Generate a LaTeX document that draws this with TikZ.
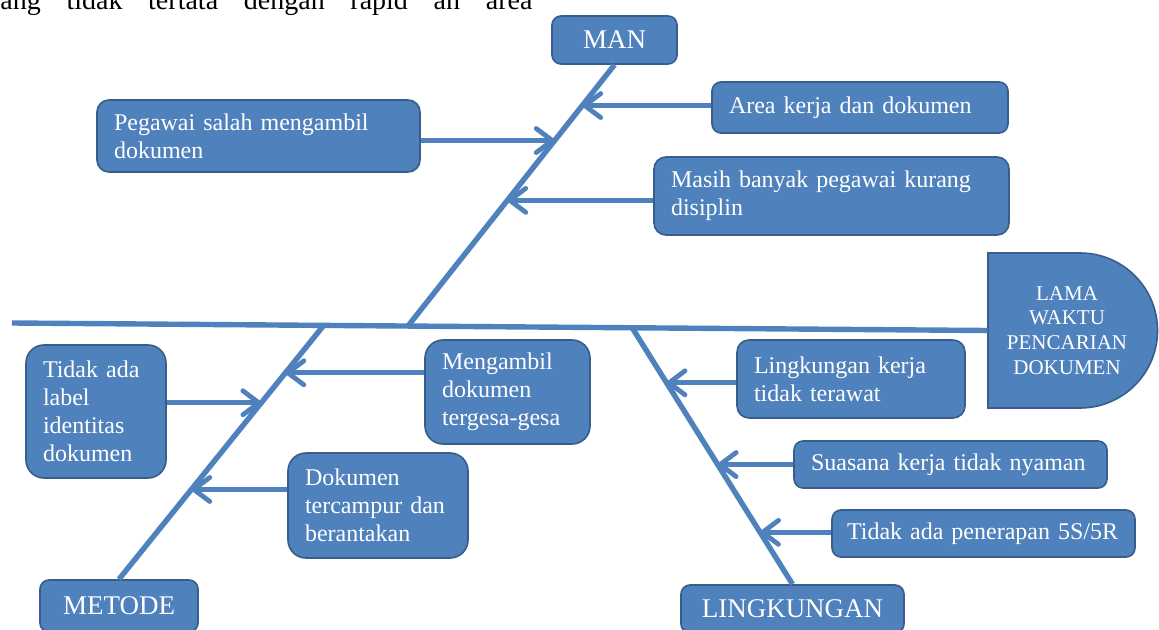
\documentclass[tikz,border=0pt]{standalone}
\usepackage{fontspec}
\setmainfont{Liberation Serif}
\usetikzlibrary{
    calc,
    arrows.meta
}

\definecolor{fishblue}{HTML}{4F81BD}
\definecolor{fishedge}{HTML}{385D8A}

\tikzset{
    bone/.style={draw=fishblue, line width=2.7pt},
    arr/.style={draw=fishblue, line width=2.4pt,
        -{Straight Barb[length=8pt,width=12pt,round]}},
    cause/.style={draw=fishedge, fill=fishblue, line width=0.8pt, text=white,
        font=\fontsize{12}{14}\selectfont, align=left,
        inner xsep=8.5pt, inner ysep=0pt},
    group/.style={draw=fishedge, fill=fishblue, line width=0.8pt, text=white,
        font=\fontsize{13.5}{16}\selectfont, rounded corners=4.5pt,
        inner sep=0pt}
}

\begin{document}
\begin{tikzpicture}[x=0.5pt,y=-0.5pt]

\useasboundingbox (0,0) rectangle (1159,630);

%====================================================
% Teks halaman (terpotong)
%====================================================

\node[anchor=base west, inner sep=0pt, font=\fontsize{14}{16}\selectfont]
    (pagetext) at (0,10)
    {\makebox[266pt][s]{ang\hfill tidak\hfill tertata\hfill dengan\hfill
     rapid\hfill an\hfill area}};

%====================================================
% Kepala dan tulang utama
%====================================================

\draw[fill=fishblue, draw=fishedge, line width=0.8pt]
    (988,253) -- (1080,253) arc[start angle=90, end angle=-90, radius=38.75pt]
    -- (988,408) -- cycle;
\node[text=white, font=\fontsize{10.5}{12.4}\selectfont, align=center,
    minimum width=79pt, minimum height=77.5pt, inner sep=0pt]
    (head) at (1067,330.5) {LAMA\\WAKTU\\PENCARIAN\\DOKUMEN};

\coordinate (tail) at (12,323);
\draw[bone] (tail) -- (head.west);

\coordinate (manroot) at (408,326);
\coordinate (metroot) at (324,325);
\coordinate (linroot) at (632,327.5);

%====================================================
% MAN
%====================================================

\node[group, minimum width=62.5pt, minimum height=24pt] (man) at (614.5,40) {MAN};

\node[cause, rounded corners=4.5pt, text width=131pt, minimum height=25.5pt]
    (area) at (860,107.5) {Area kerja dan dokumen};
\node[cause, rounded corners=6pt, text width=144.5pt, minimum height=36pt]
    (pegawai) at (258.5,136) {Pegawai salah mengambil\\dokumen};
\node[cause, rounded corners=6pt, text width=160.5pt, minimum height=39pt]
    (masih) at (831.5,196) {Masih banyak pegawai kurang\\disiplin};

\draw[bone] (manroot) -- (man.south);

\coordinate (a1) at ($(manroot)!0.844!(man.south)$);
\coordinate (a2) at ($(manroot)!0.710!(man.south)$);
\coordinate (a3) at ($(manroot)!0.481!(man.south)$);

\draw[arr] (area.west |- a1) -- (a1);
\draw[arr] (pegawai.east |- a2) -- (a2);
\draw[arr] (masih.west |- a3) -- (a3);

%====================================================
% METODE
%====================================================

\node[group, minimum width=79pt, minimum height=26pt] (metode) at (119,606) {METODE};

\node[cause, rounded corners=9pt, text width=53pt, minimum height=66.5pt]
    (label) at (96,411.5) {Tidak ada\\label\\identitas\\dokumen};
\node[cause, rounded corners=9pt, text width=65.5pt, minimum height=52pt]
    (ambil) at (507.5,392) {Mengambil\\dokumen\\tergesa-gesa};
\node[cause, rounded corners=9pt, text width=73pt, minimum height=52.5pt]
    (campur) at (378,505.5) {Dokumen\\tercampur dan\\berantakan};

\draw[bone] (metroot) -- (metode.north);

\coordinate (b1) at ($(metroot)!0.306!(metode.north)$);
\coordinate (b2) at ($(metroot)!0.188!(metode.north)$);
\coordinate (b3) at ($(metroot)!0.647!(metode.north)$);

\draw[arr] (label.east |- b1) -- (b1);
\draw[arr] (ambil.west |- b2) -- (b2);
\draw[arr] (campur.west |- b3) -- (b3);

%====================================================
% LINGKUNGAN
%====================================================

\node[group, minimum width=111.5pt, minimum height=24pt] (lingk) at (792.5,609) {LINGKUNGAN};

\node[cause, rounded corners=6pt, text width=97pt, minimum height=39pt]
    (rawat) at (851,379) {Lingkungan kerja\\tidak terawat};
\node[cause, rounded corners=4.5pt, text width=139.5pt, minimum height=23.5pt]
    (suasana) at (950.5,464.5) {Suasana kerja tidak nyaman};
\node[cause, rounded corners=4.5pt, inner xsep=7.5pt, text width=136.5pt,
    minimum height=23.5pt]
    (lima) at (983.5,533.5) {Tidak ada penerapan 5S/5R};

\draw[bone] (linroot) -- (lingk.north);

\coordinate (c1) at ($(linroot)!0.2155!(lingk.north)$);
\coordinate (c2) at ($(linroot)!0.534!(lingk.north)$);
\coordinate (c3) at ($(linroot)!0.798!(lingk.north)$);

\draw[arr] (rawat.west |- c1) -- (c1);
\draw[arr] (suasana.west |- c2) -- (c2);
\draw[arr] (lima.west |- c3) -- (c3);
\end{tikzpicture}
\end{document}
